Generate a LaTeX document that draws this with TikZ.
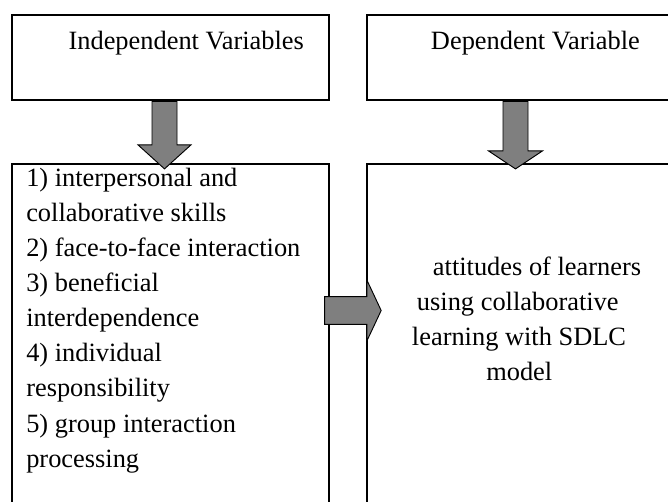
\documentclass[tikz,border=0pt]{standalone}
\usepackage{fontspec}
\setmainfont{Liberation Serif}
\usetikzlibrary{calc}
\definecolor{arrgray}{HTML}{7F7F7F}
\begin{document}
\begin{tikzpicture}[x=0.75pt,y=-0.75pt,
  box/.style={draw=black,line width=1.4pt,rectangle,inner sep=0pt,anchor=north west},
  txt/.style={anchor=base west,inner sep=0pt,font=\fontsize{19.8}{26}\selectfont},
  barrow/.style={draw=black,line width=0.7pt,fill=arrgray,line join=miter}]
\path[use as bounding box] (0,0) rectangle (668,502);
\clip (0,0) rectangle (668,502);
% boxes
\node[box,minimum width=237.75pt,minimum height=64.125pt] (tl) at (11,14) {};
\node[box,minimum width=255pt,minimum height=64.125pt] (tr) at (366,14) {};
\node[box,minimum width=237.75pt,minimum height=270pt] (bl) at (11,163) {};
\node[box,minimum width=255pt,minimum height=270pt] (br) at (366,163) {};
% titles
\node[txt] (t1) at (68.3,50) {Independent Variables};
\node[txt] (t2) at (430.7,50) {Dependent Variable};
% left list
\node[txt] (l1) at (26,187) {1) interpersonal and};
\node[txt] (l2) at (26,222) {collaborative skills};
\node[txt] (l3) at (26,257) {2) face-to-face interaction};
\node[txt] (l4) at (26,292) {3) beneficial};
\node[txt] (l5) at (26,327) {interdependence};
\node[txt] (l6) at (26,362) {4) individual};
\node[txt] (l7) at (26,397) {responsibility};
\node[txt] (l8) at (26,432) {5) group interaction};
\node[txt] (l9) at (26,467) {processing};
% right text
\node[txt] (r1) at (432.7,275.7) {attitudes of learners};
\node[txt] (r2) at (416.7,310.7) {using collaborative};
\node[txt] (r3) at (411.7,345.7) {learning with SDLC};
\node[txt] (r4) at (486,380.7) {model};
% block arrows (from box to box)
\coordinate (a1s) at ($(tl.south west)+(153.5,0)$);
\coordinate (a2s) at ($(tr.south west)+(149.5,0)$);
\coordinate (a3s) at ($(bl.north east)+(-5.3,147.5)$);
\draw[barrow] ($(a1s)+(-12.5,0)$) -- ($(a1s)+(12.5,0)$) -- ($(a1s)+(12.5,43.5)$)
  -- ($(a1s)+(26.5,43.5)$) -- ($(a1s)+(0,67.5)$) -- ($(a1s)+(-26.5,43.5)$)
  -- ($(a1s)+(-12.5,43.5)$) -- cycle;
\draw[barrow] ($(a2s)+(-12.5,0)$) -- ($(a2s)+(12.5,0)$) -- ($(a2s)+(12.5,49.5)$)
  -- ($(a2s)+(27,49.5)$) -- ($(a2s)+(0,67.5)$) -- ($(a2s)+(-27,49.5)$)
  -- ($(a2s)+(-12.5,49.5)$) -- cycle;
\draw[barrow] ($(a3s)+(0,-13.8)$) -- ($(a3s)+(42.3,-13.8)$) -- ($(a3s)+(42.3,-30.5)$)
  -- ($(a3s)+(56.6,0)$) -- ($(a3s)+(42.3,30.5)$) -- ($(a3s)+(42.3,13.8)$)
  -- ($(a3s)+(0,13.8)$) -- cycle;
\end{tikzpicture}
\end{document}
